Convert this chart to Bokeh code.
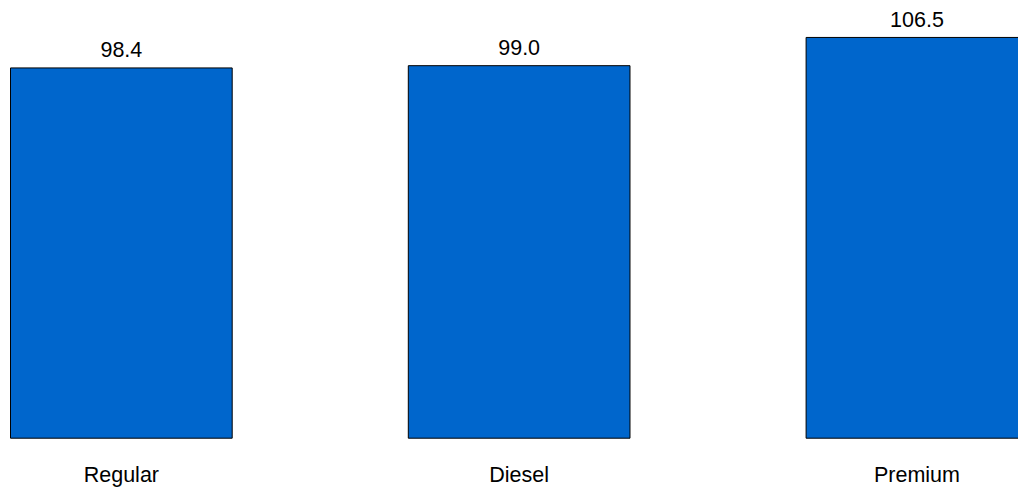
from bokeh.plotting import figure
from bokeh.models import ColumnDataSource, Range1d
from bokeh.embed import file_html
from bokeh.resources import INLINE
from bokeh.core.properties import value

categories = ["Regular", "Diesel", "Premium"]
values = [98.4, 99.0, 106.5]
value_labels = ["98.4", "99.0", "106.5"]

positions = list(range(len(categories)))
src = ColumnDataSource(dict(x=positions, top=values, cat=categories, lbl=value_labels,
                            zero=[0] * len(categories)))

p = figure(width=1018, height=488, output_backend="svg", toolbar_location=None,
           x_range=Range1d(-0.3038, 2.2553), y_range=Range1d(-13.37, 116.32),
           min_border=0)
p.axis.visible = False
p.grid.visible = False
p.outline_line_color = None
p.background_fill_color = "white"

p.vbar(x="x", top="top", bottom=0, width=0.5573, source=src,
       fill_color="#0066CC", line_color="black", line_width=1)

p.text(x="x", y="top", text="lbl", source=src, text_align="center",
       text_baseline="alphabetic", y_offset=-18, text_font=value("Liberation Sans"),
       text_font_size="21.5px", text_color="black")

p.text(x="x", y="zero", text="cat", source=src, text_align="center",
       text_baseline="alphabetic", y_offset=37, text_font=value("Liberation Sans"),
       text_font_size="21.5px", text_color="black")

open("out.html", "w").write(file_html(p, INLINE))
